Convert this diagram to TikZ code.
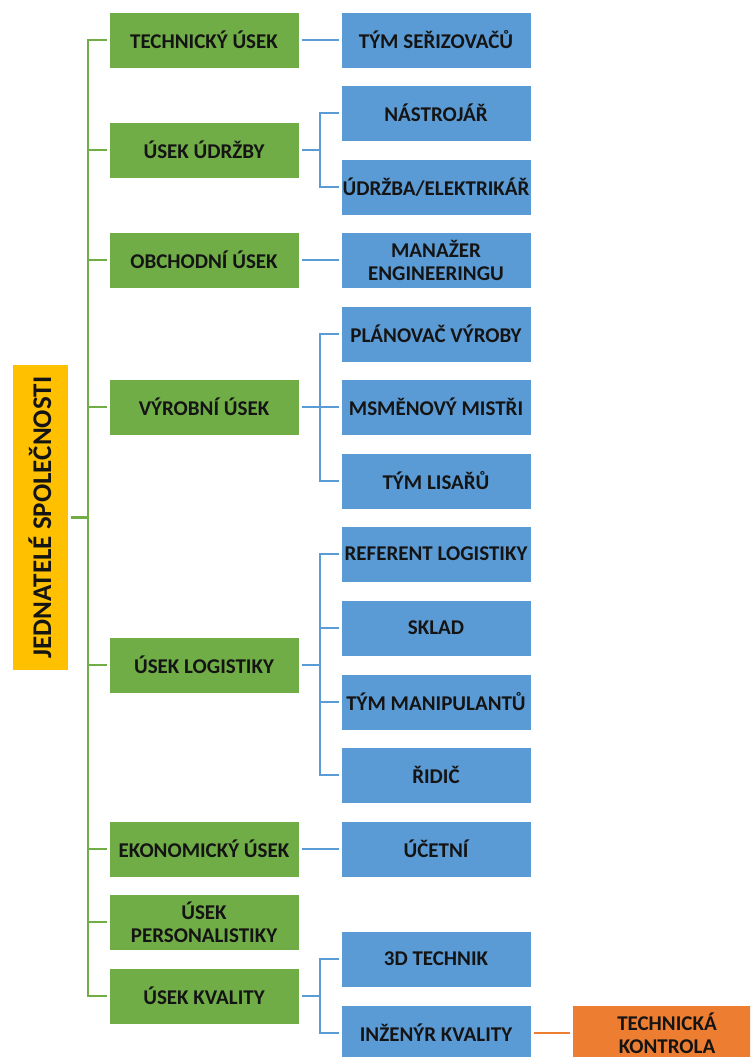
\documentclass[tikz,border=0pt]{standalone}
\usepackage{fontspec}
\setmainfont{Carlito}
\definecolor{cgreen}{HTML}{70AD47}
\definecolor{cblue}{HTML}{5B9BD5}
\definecolor{cyellow}{HTML}{FFC000}
\definecolor{corange}{HTML}{ED7D31}
\definecolor{ctext}{HTML}{141414}
\begin{document}
\begin{tikzpicture}[x=1pt,y=-1pt,
  boxbase/.style={rectangle, minimum width=190pt, minimum height=56pt, inner sep=0pt,
    outer sep=2.5pt, align=center, text=ctext,
    font=\fontsize{21}{23}\selectfont\bfseries, draw=white, line width=0.6pt},
  gbox/.style={boxbase, fill=cgreen},
  bbox/.style={boxbase, fill=cblue},
  obox/.style={boxbase, fill=corange},
  rootbox/.style={boxbase, fill=cyellow, minimum width=306pt, minimum height=56pt, rotate=90,
    font=\fontsize{27}{30}\selectfont\bfseries},
  gline/.style={draw=cgreen, line width=2.6pt},
  bline/.style={draw=cblue, line width=2.6pt},
  oline/.style={draw=corange, line width=2.6pt}]
\useasboundingbox (0,0) rectangle (750,1057);
\clip (0,0) rectangle (750,1057);
% root
\node[rootbox] (root) at (40,517.5) {JEDNATELÉ SPOLEČNOSTI};
% green
\node[gbox] (g1) at (204,40) {TECHNICKÝ ÚSEK};
\node[gbox] (g2) at (204,150) {ÚSEK ÚDRŽBY};
\node[gbox] (g3) at (204,260) {OBCHODNÍ ÚSEK};
\node[gbox] (g4) at (204,407) {VÝROBNÍ ÚSEK};
\node[gbox] (g5) at (204,665) {ÚSEK LOGISTIKY};
\node[gbox] (g6) at (204,849) {EKONOMICKÝ ÚSEK};
\node[gbox] (g7) at (204,922) {ÚSEK\\PERSONALISTIKY};
\node[gbox] (g8) at (204,996) {ÚSEK KVALITY};
% blue
\node[bbox] (b1) at (436,40) {TÝM SEŘIZOVAČŮ};
\node[bbox] (b2) at (436,113) {NÁSTROJÁŘ};
\node[bbox] (b3) at (436,187) {ÚDRŽBA/ELEKTRIKÁŘ};
\node[bbox] (b4) at (436,260) {MANAŽER\\ENGINEERINGU};
\node[bbox] (b5) at (436,334) {PLÁNOVAČ VÝROBY};
\node[bbox] (b6) at (436,407) {MSMĚNOVÝ MISTŘI};
\node[bbox] (b7) at (436,481) {TÝM LISAŘŮ};
\node[bbox] (b8) at (436,554) {REFERENT LOGISTIKY};
\node[bbox] (b9) at (436,628) {SKLAD};
\node[bbox] (b10) at (436,702) {TÝM MANIPULANTŮ};
\node[bbox] (b11) at (436,775) {ŘIDIČ};
\node[bbox] (b12) at (436,849) {ÚČETNÍ};
\node[bbox] (b13) at (436,959) {3D TECHNIK};
\node[bbox] (b14) at (436,1033) {INŽENÝR KVALITY};
% orange
\node[obox] (o1) at (667,1033) {TECHNICKÁ\\KONTROLA};
% trunk coordinates
\coordinate (gx) at (88,0);
\coordinate (bx) at (320,0);
% green connectors
\draw[gline] (root.south) -- (root.south -| gx);
\draw[gline, line cap=rect] (g1.west -| gx) -- (g8.west -| gx);
\foreach \g in {g1,g2,g3,g4,g5,g6,g7,g8}{
  \draw[gline] (\g.west -| gx) -- (\g.west);
}
% blue single connectors
\draw[bline] (g1.east) -- (b1.west);
\draw[bline] (g3.east) -- (b4.west);
\draw[bline] (g6.east) -- (b12.west);
% blue groups
\draw[bline] (g2.east) -- (g2.east -| bx);
\draw[bline, line cap=rect] (b2.west -| bx) -- (b3.west -| bx);
\foreach \b in {b2,b3}{\draw[bline] (\b.west -| bx) -- (\b.west);}
\draw[bline] (g4.east) -- (g4.east -| bx);
\draw[bline, line cap=rect] (b5.west -| bx) -- (b7.west -| bx);
\foreach \b in {b5,b6,b7}{\draw[bline] (\b.west -| bx) -- (\b.west);}
\draw[bline] (g5.east) -- (g5.east -| bx);
\draw[bline, line cap=rect] (b8.west -| bx) -- (b11.west -| bx);
\foreach \b in {b8,b9,b10,b11}{\draw[bline] (\b.west -| bx) -- (\b.west);}
\draw[bline] (g8.east) -- (g8.east -| bx);
\draw[bline, line cap=rect] (b13.west -| bx) -- (b14.west -| bx);
\foreach \b in {b13,b14}{\draw[bline] (\b.west -| bx) -- (\b.west);}
% orange
\draw[oline] (b14.east) -- (o1.west);
\end{tikzpicture}
\end{document}
